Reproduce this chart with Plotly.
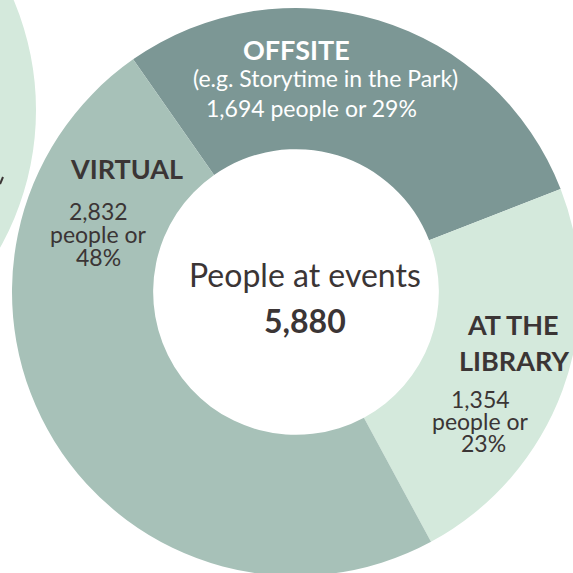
import plotly.graph_objects as go

# ---- data ----
categories = ["OFFSITE", "AT THE LIBRARY", "VIRTUAL"]
people = [1694, 1354, 2832]
percents = [29, 23, 48]
colors = ["#7c9795", "#d4e9dc", "#a7c1b8"]
offsite_note = "(e.g. Story\u200ctime in the Park)"
total_label = "People at events"
total_value = sum(people)

W, H = 592, 584
CX, CY, R_OUT = 296, 292, 284
TEXT_DARK = "#3b3535"
FONT = "Lato, 'Open Sans', sans-serif"


def px(x):
    return x / W


def py(y):
    return 1 - y / H


fig = go.Figure()
fig.add_trace(go.Pie(
    labels=categories,
    values=people,
    marker=dict(colors=colors, line=dict(width=0)),
    hole=0.503,
    sort=False,
    direction="clockwise",
    rotation=-35,
    textinfo="none",
    hoverinfo="skip",
    showlegend=False,
    domain=dict(x=[px(CX - R_OUT), px(CX + R_OUT)],
                y=[py(CY + R_OUT), py(CY - R_OUT)]),
))

annotations = []


def ann(text, x, y, size, color=TEXT_DARK, bold=False):
    t = f"<b>{text}</b>" if bold else text
    annotations.append(dict(text=t, x=px(x), y=py(y), xref="paper", yref="paper",
                            showarrow=False, xanchor="center", yanchor="middle",
                            align="center", borderpad=0,
                            font=dict(family=FONT, size=size, color=color)))


def fmt(n):
    return f"{n:,}"


SMALL = 23
BOLD = 27

# offsite
ann(categories[0], 296, 49, BOLD, color="white", bold=True)
ann(offsite_note, 325, 78, SMALL, color="white")
ann(f"{fmt(people[0])} people or {percents[0]}%", 311, 108, SMALL, color="white")
# virtual
ann(categories[2], 126, 168, BOLD, bold=True)
ann(fmt(people[2]), 98, 211, SMALL)
ann("people or", 98, 234, SMALL)
ann(f"{percents[2]}%", 98, 257, SMALL)
# library
ann("AT THE", 513, 324, BOLD, bold=True)
ann("LIBRARY", 514, 360, BOLD, bold=True)
ann(fmt(people[1]), 480, 399, SMALL)
ann("people or", 480, 421, SMALL)
ann(f"{percents[1]}%", 483, 443, SMALL)
# center
ann(total_label, 305, 275, 32)
ann(fmt(total_value), 305, 320, 32, bold=True)

fig.update_layout(
    width=W, height=H,
    margin=dict(l=0, r=0, t=0, b=0),
    paper_bgcolor="white",
    plot_bgcolor="white",
    annotations=annotations,
    shapes=[
        dict(type="circle", xref="paper", yref="paper",
             x0=px(-529), x1=px(36), y0=py(392), y1=py(-172),
             fillcolor="#d4e9dc", line=dict(width=0), layer="below"),
        # tiny fragment of the neighbouring chart's text
        dict(type="line", xref="paper", yref="paper",
             x0=px(0), y0=py(184), x1=px(3), y1=py(177),
             line=dict(color=TEXT_DARK, width=2)),
    ],
)

fig.write_html("out.html",
               post_script="document.body.style.margin='0';document.body.style.overflow='hidden';")
